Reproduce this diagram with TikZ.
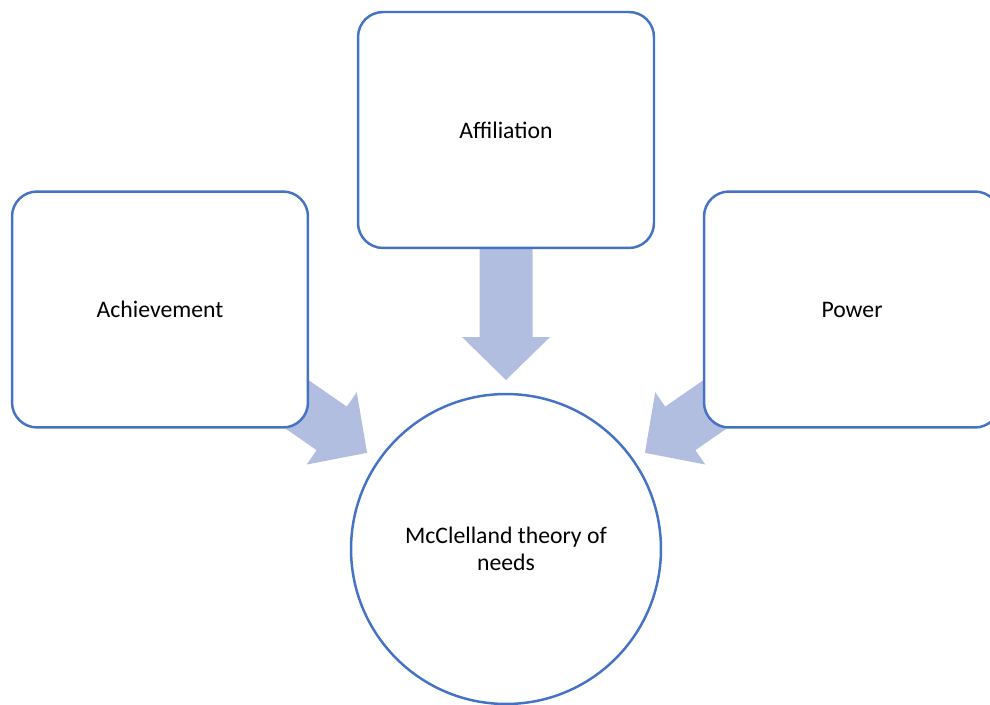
\documentclass[tikz,border=0pt]{standalone}
\usepackage{fontspec}
\setmainfont{Carlito}
\usetikzlibrary{calc,backgrounds}
\definecolor{edge}{HTML}{4472C4}
\definecolor{arrowfill}{HTML}{B1BEDF}

\begin{document}
\begin{tikzpicture}[
  x=0.02cm,y=0.02cm,
  need/.style={draw=edge,line width=1.4pt,fill=white,rounded corners=0.5cm,minimum width=5.92cm,minimum height=4.72cm,font=\fontsize{13.5}{16}\selectfont},
  theory/.style={draw=edge,line width=1.4pt,fill=white,circle,minimum size=6.2cm,align=center,font=\fontsize{13.5}{15.5}\selectfont},
]
  \useasboundingbox (0,0) rectangle (990,704);
  \clip (0,0) rectangle (990,704);

  \node[need] (aff) at (506,574) {Affiliation};
  \node[need] (ach) at (160,394.5) {Achievement};
  \node[need] (pow) at (852,394.5) {Power};
  \node[theory] (mcc) at (506,155) {McClelland theory of\\needs};

  % block arrows from each need to the circle
  \begin{scope}[on background layer]
    \foreach \src in {ach,aff,pow}
      \fill[arrowfill] let \p1=($(\src.center)-(mcc.center)$), \n1={atan2(\y1,\x1)} in
        ($(mcc.center)+(\n1:3.38cm)$)
        -- ++($(\n1:0.86cm)+(\n1+90:0.88cm)$)
        -- ++(\n1-90:0.35cm)
        -- ++(\n1:2.16cm)
        -- ++(\n1-90:1.06cm)
        -- ++(\n1+180:2.16cm)
        -- ++(\n1-90:0.35cm)
        -- cycle;
  \end{scope}
\end{tikzpicture}
\end{document}
